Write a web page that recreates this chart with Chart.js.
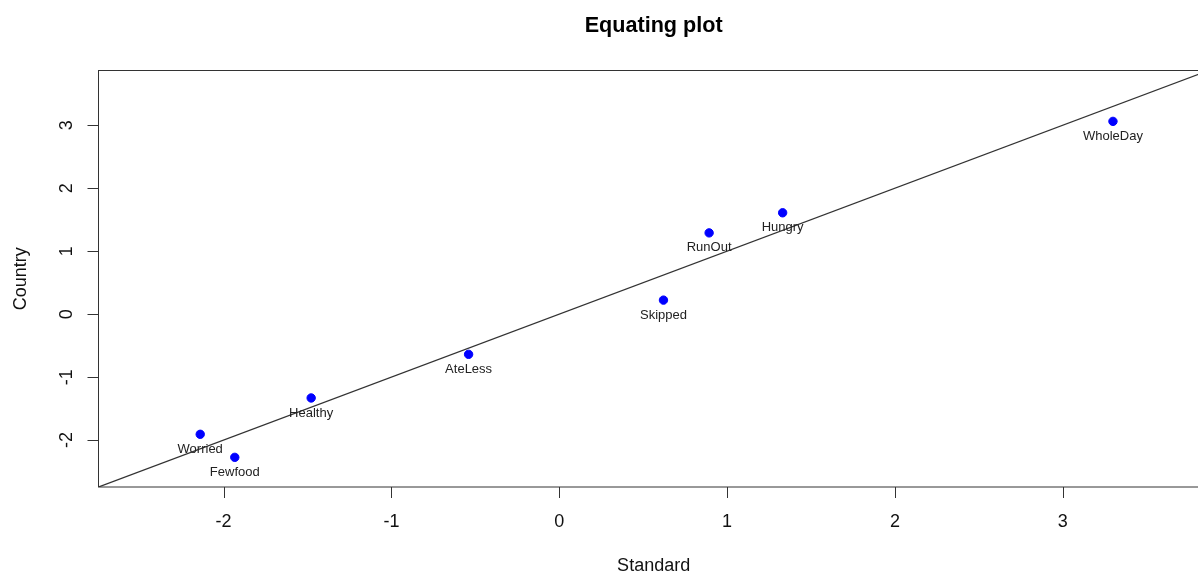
<!DOCTYPE html>
<html>
<head>
<meta charset="utf-8">
<title>Equating plot</title>
<script src="https://cdn.jsdelivr.net/npm/chart.js@4/dist/chart.umd.min.js"></script>
<style>
    html, body { margin: 0; padding: 0; background: #fff; }
    #frame { width: 1198px; height: 574px; overflow: hidden; position: relative; }
    #wrap { width: 1214px; height: 574px; position: absolute; left: 0; top: 0; }
</style>
</head>
<body>
<div id="frame"><div id="wrap"><canvas id="equatingChart"></canvas></div></div>
<script>
// Items and their estimates on both scales
const items = ['Worried', 'Fewfood', 'Healthy', 'AteLess', 'Skipped', 'RunOut', 'Hungry', 'WholeDay'];
const standard = [-2.139, -1.933, -1.478, -0.540, 0.621, 0.893, 1.331, 3.299];
const country = [-1.908, -2.274, -1.331, -0.638, 0.223, 1.291, 1.610, 3.062];

// Identity line (abline 0,1)
const lineX = [-3, 4];
const lineY = [-3, 4];

// Axes
const xTicks = [-2, -1, 0, 1, 2, 3];
const yTicks = [-2, -1, 0, 1, 2, 3];
const axisMin = -2.745;
const axisMax = 3.87;

const FONT = '"Liberation Sans", Arial, Helvetica, sans-serif';
const INK = '#222';

// Point labels below each dot
const pointLabels = {
    id: 'pointLabels',
    afterDatasetsDraw(chart) {
        const meta = chart.getDatasetMeta(1);
        const ctx = chart.ctx;
        ctx.save();
        ctx.font = '13px ' + FONT;
        ctx.fillStyle = INK;
        ctx.textAlign = 'center';
        ctx.textBaseline = 'middle';
        meta.data.forEach((pt, i) => {
            ctx.fillText(items[i], pt.x, pt.y + 15);
        });
        ctx.restore();
    }
};

// Box, ticks, tick labels, titles (R base graphics look)
const rAxes = {
    id: 'rAxes',
    afterDraw(chart) {
        const { ctx, chartArea: a, scales } = chart;
        const x = scales.x, y = scales.y;
        ctx.save();
        ctx.strokeStyle = '#333';
        ctx.lineWidth = 1;
        ctx.strokeRect(a.left, a.top, a.right - a.left, a.bottom - a.top);

        // x ticks
        ctx.beginPath();
        xTicks.forEach(v => {
            const px = Math.round(x.getPixelForValue(v)) + 0.5;
            ctx.moveTo(px, a.bottom);
            ctx.lineTo(px, a.bottom + 11);
        });
        // y ticks
        yTicks.forEach(v => {
            const py = Math.round(y.getPixelForValue(v)) + 0.5;
            ctx.moveTo(a.left, py);
            ctx.lineTo(a.left - 11, py);
        });
        ctx.stroke();

        ctx.fillStyle = '#111';
        ctx.font = '18px ' + FONT;
        ctx.textAlign = 'center';
        ctx.textBaseline = 'middle';
        xTicks.forEach(v => {
            ctx.fillText(String(v), x.getPixelForValue(v), a.bottom + 35);
        });
        yTicks.forEach(v => {
            ctx.save();
            ctx.translate(a.left - 31, y.getPixelForValue(v));
            ctx.rotate(-Math.PI / 2);
            ctx.fillText(String(v), 0, 0);
            ctx.restore();
        });

        // axis titles
        const midX = (a.left + a.right) / 2;
        const midY = (a.top + a.bottom) / 2;
        ctx.fillText('Standard', midX, 566);
        ctx.save();
        ctx.translate(21, midY);
        ctx.rotate(-Math.PI / 2);
        ctx.fillText('Country', 0, 0);
        ctx.restore();

        // main title
        ctx.font = 'bold 21.6px ' + FONT;
        ctx.fillStyle = '#000';
        ctx.fillText('Equating plot', midX, 26);
        ctx.restore();
    }
};

document.addEventListener('DOMContentLoaded', () => {
    const canvas = document.getElementById('equatingChart');

    new Chart(canvas, {
        type: 'scatter',
        data: {
            datasets: [
                {
                    type: 'line',
                    data: lineX.map((v, i) => ({ x: v, y: lineY[i] })),
                    borderColor: '#333',
                    borderWidth: 1.3,
                    pointRadius: 0,
                    fill: false
                },
                {
                    data: standard.map((v, i) => ({ x: v, y: country[i] })),
                    backgroundColor: '#0000ff',
                    borderColor: '#0000ff',
                    pointRadius: 4.2,
                    pointHoverRadius: 4.2
                }
            ]
        },
        options: {
            responsive: true,
            maintainAspectRatio: false,
            animation: false,
            events: [],
            layout: {
                padding: { left: 98.5, top: 70.5, right: 1.5, bottom: 87 }
            },
            plugins: {
                legend: { display: false },
                title: { display: false },
                tooltip: { enabled: false }
            },
            scales: {
                x: { type: 'linear', display: false, min: axisMin, max: axisMax },
                y: { type: 'linear', display: false, min: axisMin, max: axisMax }
            }
        },
        plugins: [pointLabels, rAxes]
    });
});
</script>
</body>
</html>
